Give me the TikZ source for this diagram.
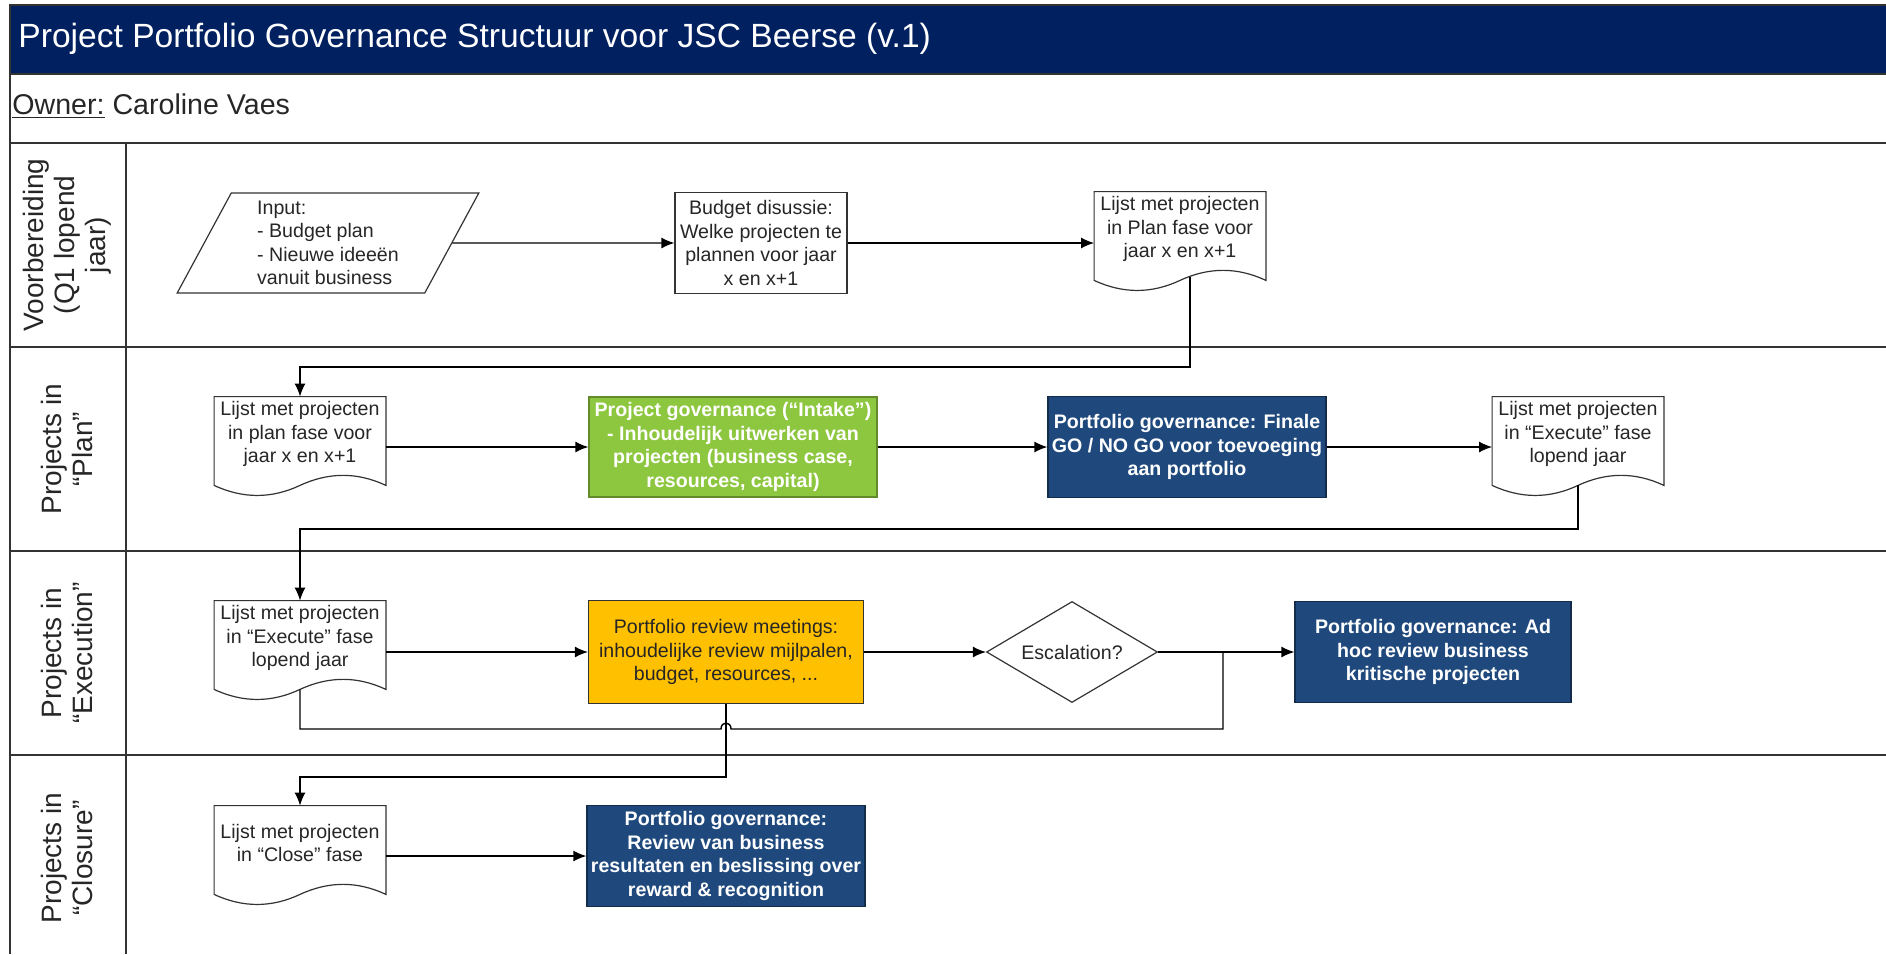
\documentclass[tikz,border=0pt]{standalone}
\usepackage{fontspec}
\setmainfont{Liberation Sans}
\usetikzlibrary{shapes.geometric,arrows.meta}
\definecolor{titlenavy}{RGB}{0,32,96}
\definecolor{govblue}{RGB}{31,73,125}
\definecolor{intakegreen}{RGB}{141,198,63}
\definecolor{revieworange}{RGB}{255,192,0}
\newcommand{\nodefont}{\fontsize{9.8}{11.7}\selectfont}

\begin{document}
\begin{tikzpicture}[x=0.5pt, y=-0.5pt, >={Latex[length=6.5pt,width=5.5pt]},
  lane/.style = {draw=black!80, line width=1pt},
  lanelabel/.style = {rotate=90, align=center, text=black!85, font=\fontsize{14}{15.5}\selectfont},
  docbox/.style = {minimum width=85.5pt, minimum height=37pt, inner sep=0pt, align=center, font=\nodefont, text=black!85},
  docline/.style = {draw=black!80, line width=0.6pt},
  plain/.style = {draw=black!80, line width=0.6pt, align=center, font=\nodefont, text=black!85, minimum width=86pt, minimum height=50.5pt, inner sep=2pt},
  gov/.style = {draw=govblue!60!black, fill=govblue, text=white, align=center, font=\nodefont\bfseries, minimum height=50.5pt, inner sep=2pt, line width=0.6pt},
  flow/.style = {->, draw=black, line width=0.7pt},
  link/.style = {draw=black, line width=0.7pt}]
\useasboundingbox (0,0) rectangle (1886,954);
\draw[fill=titlenavy, draw=black!80, line width=1pt] (10,5) rectangle (1890,74);
\node[anchor=west, inner sep=0pt, text=white, font=\fontsize{16.8}{20}\selectfont] (title) at (18,39) {Project Portfolio Governance Structuur voor JSC Beerse (v.1)};
\node[anchor=west, inner sep=0pt, text=black!85, font=\fontsize{14.3}{17}\selectfont] (owner) at (12,106) {\underline{Owner:} Caroline Vaes};
\draw[lane] (10,74) -- (10,954);
\draw[lane] (126,143) -- (126,954);
\foreach \y in {143,347,551,755} \draw[lane] (10,\y) -- (1890,\y);
\node[lanelabel] (voorb) at (67,245) {Voorbereiding\\(Q1 lopend\\jaar)};
\node[lanelabel] (plan) at (67,449) {Projects in\\“Plan”};
\node[lanelabel] (exec) at (67,653) {Projects in\\“Execution”};
\node[lanelabel] (close) at (67,858) {Projects in\\“Closure”};

\node[trapezium, trapezium left angle=66, trapezium right angle=114, trapezium stretches=true, draw=black!80, line width=0.6pt, minimum width=151pt, minimum height=50pt, align=left, font=\nodefont, text=black!85] (input) at (328,243) {Input:\\- Budget plan\\- Nieuwe ideeën\\vanuit business};
\node[plain] (budget) at (761,243) {Budget disussie:\\Welke projecten te\\plannen voor jaar\\x en x+1};
\node[docbox] (lijst1) at (1180,229) {Lijst met projecten\\in Plan fase voor\\jaar x en x+1};

\node[docbox] (lijst2) at (300,434) {Lijst met projecten\\in plan fase voor\\jaar x en x+1};
\node[gov, fill=intakegreen, draw=intakegreen!70!black, minimum width=144pt, minimum height=50pt] (intake) at (733,447) {Project governance (“Intake”)\\- Inhoudelijk uitwerken van\\projecten (business case,\\resources, capital)};
\node[gov, minimum width=138pt] (finale) at (1187,447) {Portfolio governance: Finale\\GO / NO GO voor toevoeging\\aan portfolio};
\node[docbox] (lijst3) at (1578,434) {Lijst met projecten\\in “Execute” fase\\lopend jaar};

\node[docbox] (lijst4) at (300,638) {Lijst met projecten\\in “Execute” fase\\lopend jaar};
\node[plain, fill=revieworange, minimum width=137.5pt, minimum height=51.5pt] (review) at (726,652) {Portfolio review meetings:\\inhoudelijke review mijlpalen,\\budget, resources, ...};
\node[diamond, aspect=1.7, draw=black!80, line width=0.6pt, minimum width=85.5pt, minimum height=50.5pt, inner sep=0pt, font=\nodefont, text=black!85] (escal) at (1072,652) {Escalation?};
\node[gov, minimum width=138pt] (adhoc) at (1433,652) {Portfolio governance: Ad\\hoc review business\\kritische projecten};

\node[docbox] (lijst5) at (300,843) {Lijst met projecten\\in “Close” fase};
\node[gov, minimum width=138.5pt] (reward) at (726,856) {Portfolio governance:\\Review van business\\resultaten en beslissing over\\reward \& recognition};

\foreach \d in {lijst1,lijst2,lijst3,lijst4,lijst5}
  \draw[docline] (\d.north west) -- (\d.north east) -- ([yshift=-7pt]\d.south east)
    .. controls ([shift={(-14.25pt,-0.3pt)}]\d.south east) and ([shift={(-28.5pt,-0.3pt)}]\d.south east) .. ([yshift=-7pt]\d.south)
    .. controls ([shift={(-14.25pt,-13.7pt)}]\d.south) and ([shift={(-28.5pt,-13.7pt)}]\d.south) .. ([yshift=-7pt]\d.south west) -- cycle;

\coordinate (out1) at ([shift={(5pt,-5.5pt)}]lijst1.south);
\coordinate (out3) at ([yshift=-7pt]lijst3.south);
\coordinate (out4) at ([yshift=-7pt]lijst4.south);
\coordinate (bend1) at (0,367);
\coordinate (bend2) at (0,529);
\coordinate (loopy) at (0,729);
\coordinate (bend4) at (0,777);
\coordinate (join) at (1223,652);
\coordinate (hop) at (review.south |- loopy);

\draw[flow] (input) -- (budget);
\draw[flow] (budget) -- (budget -| lijst1.west);
\draw[flow] (out1) -- (out1 |- bend1) -| (lijst2);
\draw[flow] (lijst2.east |- intake) -- (intake);
\draw[flow] (intake) -- (finale);
\draw[flow] (finale) -- (finale -| lijst3.west);
\draw[flow] (out3) -- (out3 |- bend2) -| (lijst4);
\draw[flow] (lijst4.east |- review) -- (review);
\draw[flow] (review) -- (escal);
\draw[flow] (escal) -- (adhoc);
\draw[link] (out4) -- (out4 |- loopy) -- ([xshift=-2.5pt]hop) .. controls ([shift={(-2.5pt,4pt)}]hop) and ([shift={(2.5pt,4pt)}]hop) .. ([xshift=2.5pt]hop) -- (join |- loopy) -- (join);
\draw[flow] (review) -- (review |- bend4) -| (lijst5);
\draw[flow] (lijst5.east |- reward) -- (reward);
\end{tikzpicture}
\end{document}
